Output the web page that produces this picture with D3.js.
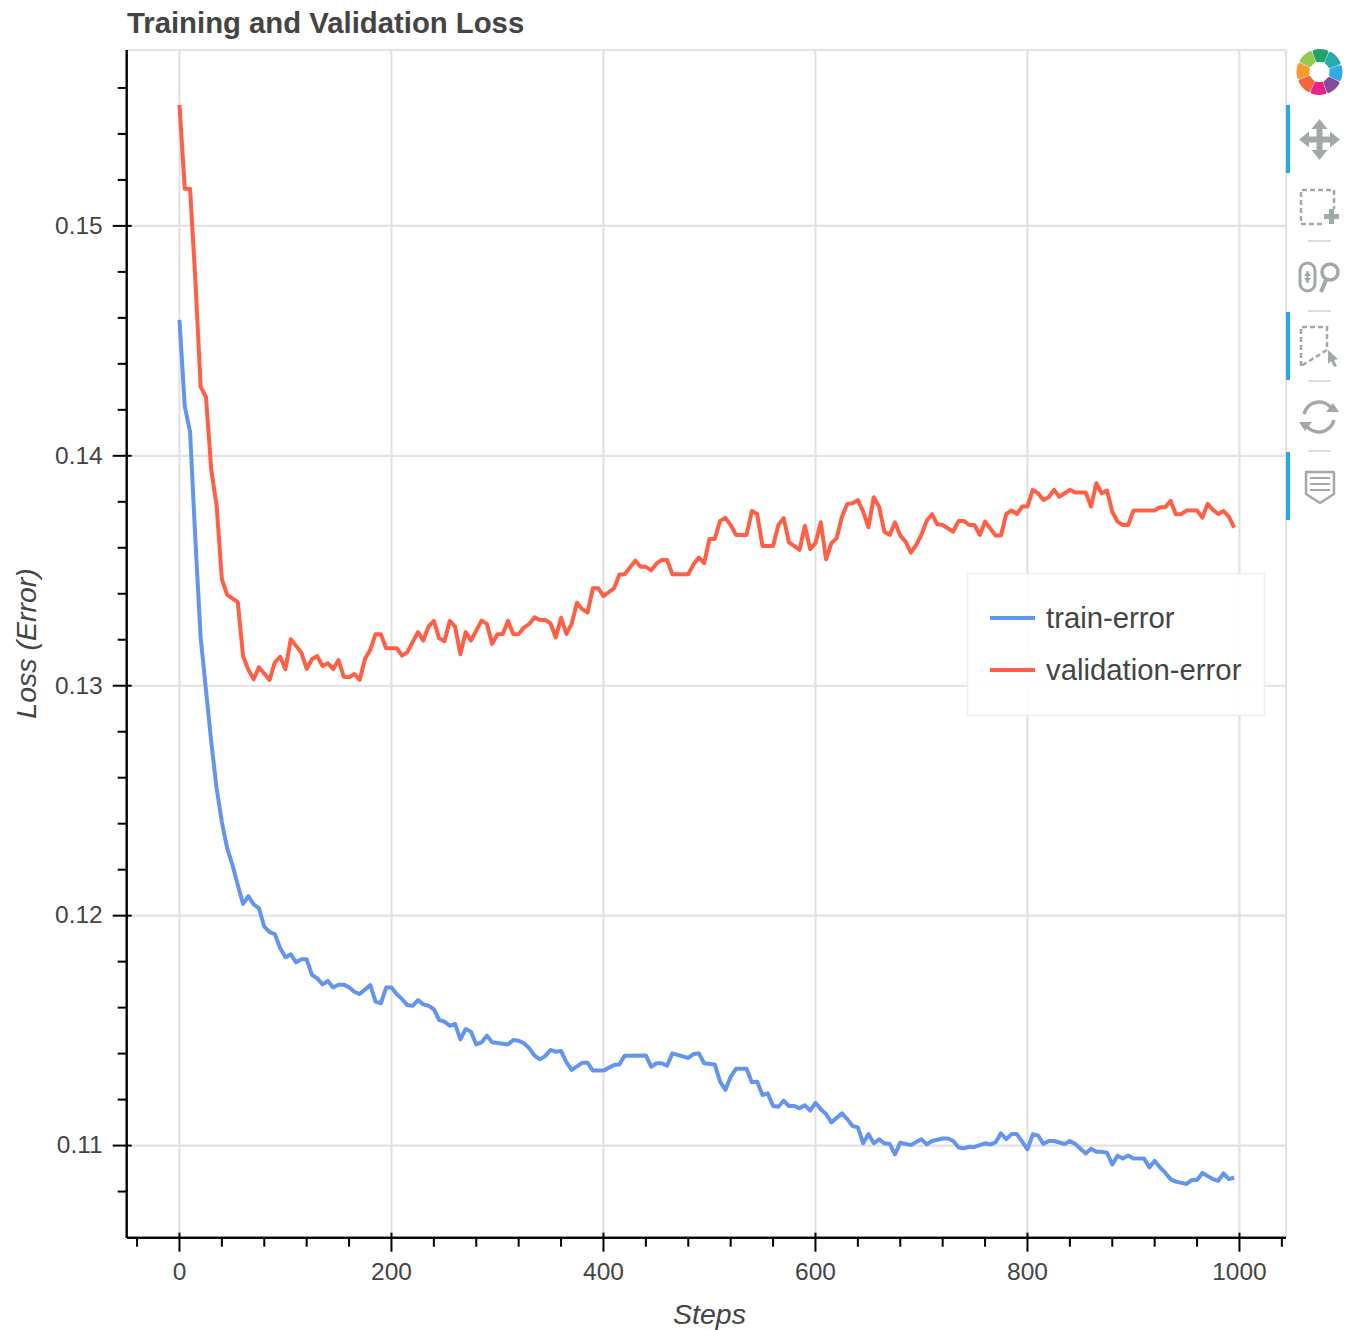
<!DOCTYPE html>
<html>
<head>
<meta charset="utf-8">
<script src="https://cdn.jsdelivr.net/npm/d3@7"></script>
<style>
html,body{margin:0;padding:0;background:#fff;}
svg{display:block;font-family:"Liberation Sans",Arial,sans-serif;}
</style>
</head>
<body>
<svg id="chart" width="1354" height="1330"></svg>
<script>
const titleText = "Training and Validation Loss";
const xLabel = "Steps";
const yLabel = "Loss (Error)";
const xTicks = [0,200,400,600,800,1000];
const xMinorTicks = [-40,40,80,120,160,240,280,320,360,440,480,520,560,640,680,720,760,840,880,920,960,1040];
const yTicks = [0.11,0.12,0.13,0.14,0.15];
const yMinorTicks = [0.108,0.112,0.114,0.116,0.118,0.122,0.124,0.126,0.128,0.132,0.134,0.136,0.138,0.142,0.144,0.146,0.148,0.152,0.154,0.156];

const trainSteps = [
0,5,10,15,20,25,30,35,40,45,
50,55,60,65,70,75,80,85,90,95,
100,105,110,115,120,125,130,135,140,145,
150,155,160,165,170,180,185,190,195,200,
205,210,215,220,225,230,235,240,245,250,
255,260,265,270,275,280,285,290,295,305,
310,315,320,325,330,335,340,345,350,355,
360,365,370,380,385,390,400,410,415,420,
440,445,450,455,460,465,480,485,490,495,
505,510,515,520,525,535,540,545,550,555,
560,565,570,575,580,585,590,595,600,605,
610,615,625,630,635,640,645,650,655,660,
665,670,675,680,690,700,705,710,720,725,
730,735,740,745,750,760,765,770,775,780,
785,790,800,805,810,815,820,825,835,840,
845,855,860,865,870,875,880,885,890,895,
900,910,915,920,925,930,935,940,950,955,
960,965,975,980,985,990,995];
const trainValues = [
0.14591,0.14214,0.14105,0.13634,0.13208,0.12982,0.12755,0.12555,0.12407,0.12294,
0.12220,0.12133,0.12051,0.12085,0.12049,0.12032,0.11952,0.11928,0.11920,0.11858,
0.11819,0.11832,0.11797,0.11810,0.11810,0.11742,0.11727,0.11701,0.11716,0.11687,
0.11700,0.11700,0.11688,0.11669,0.11659,0.11698,0.11626,0.11619,0.11687,0.11688,
0.11658,0.11637,0.11611,0.11608,0.11633,0.11614,0.11608,0.11593,0.11546,0.11539,
0.11521,0.11529,0.11462,0.11507,0.11495,0.11440,0.11449,0.11478,0.11449,0.11443,
0.11440,0.11459,0.11456,0.11445,0.11423,0.11391,0.11375,0.11389,0.11416,0.11408,
0.11411,0.11363,0.11329,0.11360,0.11360,0.11326,0.11326,0.11350,0.11353,0.11391,
0.11392,0.11343,0.11358,0.11358,0.11347,0.11401,0.11381,0.11398,0.11401,0.11358,
0.11353,0.11278,0.11242,0.11299,0.11334,0.11334,0.11275,0.11278,0.11220,0.11227,
0.11172,0.11169,0.11195,0.11172,0.11172,0.11162,0.11175,0.11152,0.11186,0.11158,
0.11137,0.11101,0.11140,0.11115,0.11085,0.11079,0.11010,0.11050,0.11010,0.11027,
0.11010,0.11007,0.10962,0.11013,0.11002,0.11027,0.11005,0.11020,0.11031,0.11031,
0.11020,0.10992,0.10988,0.10995,0.10994,0.11010,0.11005,0.11014,0.11053,0.11028,
0.11050,0.11050,0.10984,0.11049,0.11044,0.11007,0.11020,0.11020,0.11007,0.11020,
0.11007,0.10966,0.10986,0.10973,0.10973,0.10969,0.10918,0.10956,0.10944,0.10957,
0.10944,0.10944,0.10905,0.10934,0.10905,0.10882,0.10854,0.10843,0.10833,0.10850,
0.10850,0.10881,0.10854,0.10847,0.10879,0.10854,0.10861];

const valSteps = [
0,5,10,15,20,25,30,35,40,45,
55,60,65,70,75,85,90,95,100,105,
115,120,125,130,135,140,145,150,155,160,
165,170,175,180,185,190,195,205,210,215,
225,230,235,240,245,250,255,260,265,270,
275,285,290,295,300,305,310,315,320,325,
330,335,340,345,350,355,360,365,370,375,
380,385,390,395,400,410,415,420,430,435,
440,445,450,455,460,465,480,485,490,495,
500,505,510,515,520,525,535,540,545,550,
560,565,570,575,585,590,595,600,605,610,
615,620,625,630,635,640,645,650,655,660,
665,670,675,680,685,690,695,700,705,710,
715,720,730,735,740,745,750,755,760,770,
775,780,785,790,795,800,805,810,815,820,
825,830,840,845,855,860,865,870,875,880,
885,890,895,900,920,925,930,935,940,945,
950,960,965,970,975,980,985,990,995];
const valValues = [
0.15526,0.15161,0.15161,0.14765,0.14300,0.14256,0.13939,0.13786,0.13464,0.13395,
0.13364,0.13129,0.13069,0.13028,0.13080,0.13025,0.13102,0.13126,0.13072,0.13202,
0.13144,0.13073,0.13115,0.13129,0.13086,0.13098,0.13072,0.13112,0.13039,0.13037,
0.13051,0.13025,0.13116,0.13156,0.13224,0.13224,0.13163,0.13163,0.13131,0.13146,
0.13233,0.13196,0.13257,0.13282,0.13206,0.13193,0.13282,0.13257,0.13137,0.13233,
0.13196,0.13283,0.13269,0.13182,0.13224,0.13225,0.13282,0.13224,0.13225,0.13253,
0.13269,0.13298,0.13286,0.13286,0.13272,0.13210,0.13296,0.13225,0.13269,0.13361,
0.13333,0.13318,0.13424,0.13424,0.13390,0.13424,0.13484,0.13485,0.13544,0.13518,
0.13517,0.13502,0.13531,0.13547,0.13547,0.13485,0.13485,0.13528,0.13557,0.13533,
0.13638,0.13638,0.13717,0.13730,0.13699,0.13656,0.13656,0.13760,0.13747,0.13608,
0.13608,0.13699,0.13729,0.13624,0.13591,0.13696,0.13594,0.13620,0.13711,0.13550,
0.13620,0.13641,0.13735,0.13791,0.13794,0.13807,0.13757,0.13689,0.13820,0.13779,
0.13670,0.13656,0.13711,0.13653,0.13627,0.13579,0.13612,0.13656,0.13718,0.13746,
0.13702,0.13699,0.13670,0.13717,0.13717,0.13699,0.13699,0.13656,0.13714,0.13653,
0.13653,0.13747,0.13762,0.13747,0.13779,0.13779,0.13852,0.13837,0.13808,0.13820,
0.13852,0.13822,0.13852,0.13840,0.13840,0.13779,0.13881,0.13837,0.13849,0.13757,
0.13714,0.13699,0.13699,0.13762,0.13762,0.13776,0.13776,0.13804,0.13746,0.13746,
0.13762,0.13762,0.13731,0.13791,0.13765,0.13747,0.13760,0.13735,0.13688];

const seriesNames = ["train-error","validation-error"];
const seriesColors = ["#6495ed","#ff5f45"];

const svg = d3.select("#chart");
const plot = {left:127, right:1286, top:50, bottom:1238};
const x = d3.scaleLinear().domain([-49.5,1043.9]).range([plot.left,plot.right]);
const y = d3.scaleLinear().domain([0.10598,0.15765]).range([plot.bottom,plot.top]);
const textColor = "#444";
const gridColor = "#e2e2e2";

// grid
const grid = svg.append("g").attr("stroke",gridColor).attr("stroke-width",2.2);
grid.selectAll(".gx").data(xTicks).join("line")
  .attr("x1",d=>x(d)).attr("x2",d=>x(d)).attr("y1",plot.top).attr("y2",plot.bottom);
grid.selectAll(".gy").data(yTicks).join("line")
  .attr("y1",d=>y(d)).attr("y2",d=>y(d)).attr("x1",plot.left).attr("x2",plot.right);
grid.append("line").attr("x1",plot.left).attr("x2",plot.right).attr("y1",plot.top).attr("y2",plot.top);
grid.append("line").attr("x1",plot.right).attr("x2",plot.right).attr("y1",plot.top).attr("y2",plot.bottom);

// lines
const line = d3.line().x(d=>x(d[0])).y(d=>y(d[1]));
const trainData = d3.zip(trainSteps,trainValues);
const valData = d3.zip(valSteps,valValues);
[trainData,valData].forEach((data,i)=>{
  svg.append("path").datum(data).attr("d",line).attr("fill","none")
    .attr("stroke",seriesColors[i]).attr("stroke-width",4).attr("stroke-linejoin","round");
});

// axes
function styleAxis(g){
  g.selectAll(".domain").attr("stroke","#000").attr("stroke-width",2);
  g.selectAll(".tick line").attr("stroke","#000").attr("stroke-width",2);
  g.selectAll(".tick text").attr("fill",textColor).attr("font-size",24.5)
    .attr("font-family",'"Liberation Sans",Arial,sans-serif');
}
const gx = svg.append("g").attr("transform",`translate(0,${plot.bottom-0.3})`);
gx.call(d3.axisBottom(x).offset(0).tickValues(xMinorTicks).tickSize(9).tickSizeOuter(0).tickFormat(""));
styleAxis(gx);
const gx2 = svg.append("g").attr("transform",`translate(0,${plot.bottom-0.3})`);
gx2.call(d3.axisBottom(x).offset(0).tickValues(xTicks).tickSize(14).tickSizeOuter(0).tickPadding(11).tickFormat(d3.format("d")));
styleAxis(gx2);
gx2.selectAll(".tick line").attr("y1",-5);

const gy = svg.append("g").attr("transform",`translate(${plot.left-0.3},0)`);
gy.call(d3.axisLeft(y).offset(0).tickValues(yMinorTicks).tickSize(9).tickSizeOuter(0).tickFormat(""));
styleAxis(gy);
const gy2 = svg.append("g").attr("transform",`translate(${plot.left-0.3},0)`);
gy2.call(d3.axisLeft(y).offset(0).tickValues(yTicks).tickSize(14).tickSizeOuter(0).tickPadding(10).tickFormat(d3.format(".2f")));
styleAxis(gy2);
gy2.selectAll(".tick line").attr("x2",-14).attr("x1",5);

// text
svg.append("text").attr("x",127).attr("y",33).attr("font-size",29.3).attr("font-weight","bold")
  .attr("fill",textColor).text(titleText);
svg.append("text").attr("x",709.5).attr("y",1324).attr("text-anchor","middle")
  .attr("font-size",28.5).attr("font-style","italic").attr("fill",textColor).text(xLabel);
svg.append("text").attr("transform","translate(36,643.5) rotate(-90)").attr("text-anchor","middle")
  .attr("font-size",28.5).attr("font-style","italic").attr("fill",textColor).text(yLabel);

// legend
svg.append("rect").attr("x",967.5).attr("y",573.5).attr("width",297).attr("height",142)
  .attr("fill","#fff").attr("fill-opacity",0.93).attr("stroke","#eeeeee").attr("stroke-width",1.5);
seriesNames.forEach((n,i)=>{
  const ly = 618 + i*52;
  svg.append("line").attr("x1",990).attr("x2",1035).attr("y1",ly).attr("y2",ly)
    .attr("stroke",seriesColors[i]).attr("stroke-width",4);
  svg.append("text").attr("x",1046).attr("y",ly+9.5).attr("font-size",29.3).attr("fill",textColor).text(n);
});

// toolbar
const tb = svg.append("g");
const iconGray = "#a3a9a9";
const activeBlue = "#26aae1";
[[105,173],[312,380],[452,520]].forEach(r=>{
  tb.append("rect").attr("x",1286).attr("y",r[0]).attr("width",4).attr("height",r[1]-r[0]).attr("fill",activeBlue);
});
[241,311,381,451].forEach(yy=>{
  tb.append("line").attr("x1",1308).attr("x2",1331).attr("y1",yy).attr("y2",yy).attr("stroke","#cfcfcf").attr("stroke-width",1.5);
});
// logo
const petals = ["#109a5b","#12a3a6","#1fa4e3","#7a3b96","#e5127d","#f1592a","#f7931e","#8cc63f"];
const arc = d3.arc().innerRadius(10).outerRadius(23).cornerRadius(2);
const logo = tb.append("g").attr("transform","translate(1319.5,72)");
petals.forEach((c,i)=>{
  const a0 = (i-0.5)*Math.PI/4 + 0.06, a1 = a0 + Math.PI/4 - 0.02;
  logo.append("path").attr("d",arc({startAngle:a0,endAngle:a1})).attr("fill",c).attr("opacity",0.92);
});
// pan
tb.append("path").attr("fill",iconGray).attr("d",
 "M1319.5 119l8 10h-5v7.500h7.500v-5l10 8-10 8v-5h-7.500v7.500h5l-8 10-8-10h5v-7.500h-7.500v5l-10-8 10-8v5h7.500v-7.500h-5z");
// box zoom
tb.append("path").attr("fill","none").attr("stroke",iconGray).attr("stroke-width",2.5).attr("stroke-dasharray","5 3")
  .attr("d","M1322 224H1301V190H1334V209");
tb.append("path").attr("fill",iconGray).attr("d","M1329 209h5v5h5v5h-5v5h-5v-5h-5v-5h5z");
// wheel zoom
tb.append("rect").attr("x",1300).attr("y",263).attr("width",15).attr("height",28).attr("rx",7.500)
  .attr("fill","none").attr("stroke",iconGray).attr("stroke-width",3);
tb.append("path").attr("stroke",iconGray).attr("stroke-width",2).attr("d","M1307.500 271v12");
tb.append("path").attr("fill",iconGray).attr("d","M1304 276l3.500-5 3.500 5zM1304 278l3.500 5 3.500-5z");
tb.append("circle").attr("cx",1330).attr("cy",272).attr("r",8).attr("fill","none").attr("stroke",iconGray).attr("stroke-width",3.5);
tb.append("path").attr("stroke",iconGray).attr("stroke-width",4).attr("d","M1326 280l-5 12");
// lasso
tb.append("path").attr("fill","none").attr("stroke",iconGray).attr("stroke-width",2.500).attr("stroke-dasharray","5 3")
  .attr("d","M1301 366V327H1327V350Z");
tb.append("path").attr("fill",iconGray).attr("d","M1328 350l10 9-4 1 3 6-3 1-3-6-3 3z");
// reset
tb.append("path").attr("fill","none").attr("stroke",iconGray).attr("stroke-width",3.500)
  .attr("d","M1304 414a15.500 15.500 0 0 1 28-5M1334 420a15.500 15.500 0 0 1-28 5");
tb.append("path").attr("fill",iconGray).attr("d","M1326 412l13 0-6-9zM1312 422l-13 0 6 9z");
// hover
tb.append("path").attr("fill","none").attr("stroke",iconGray).attr("stroke-width",2.500).attr("stroke-linejoin","round")
  .attr("d","M1306 472H1333a1 1 0 0 1 1 1V494L1320 503L1306 494V473a1 1 0 0 1 1-1Z");
[478,484,490].forEach(yy=>{
  tb.append("line").attr("x1",1310).attr("x2",1330).attr("y1",yy).attr("y2",yy).attr("stroke",iconGray).attr("stroke-width",2);
});
</script>
</body>
</html>
